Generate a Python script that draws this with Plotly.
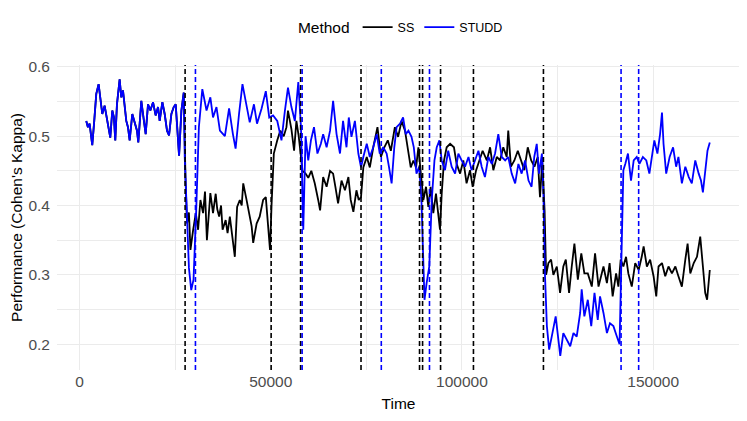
import plotly.graph_objects as go

# ---------------- data ----------------
studd_time = [1750, 2180, 2620, 3320, 3840, 4370, 4980, 5500, 5940, 6550, 6980, 7680, 8030, 8560, 8990,
              9340, 9780, 10480, 10910, 11350, 11790, 12220, 12660, 13100, 13790, 14400, 15020, 15360,
              16150, 16590, 17290, 17900, 18510, 19210, 19900, 20520, 20950, 21650, 22260, 22870, 23400,
              24010, 24620, 25140, 25580, 26020, 26630, 27240, 27500, 28100, 28600, 29200, 29800, 30500,
              31200, 32100, 33200, 34200, 34900, 35800, 36700, 38000, 39100, 40100, 40800, 41700, 42600,
              43600, 44500, 45600, 46400, 47600, 48700, 49600, 50600, 51700, 52800, 53700, 54500, 55400,
              56300, 57200, 57900, 58500, 59100, 59800, 60500, 61300, 62200, 63100, 63700, 64600, 65500,
              66300, 67200, 68100, 68900, 69800, 70400, 71100, 72000, 72900, 73600, 74200, 75100, 75900,
              76800, 77700, 78500, 79400, 80300, 80900, 81600, 82300, 82900, 83800, 84600, 85300, 86000,
              86800, 87400, 88100, 88800, 89400, 89900, 90200, 90750, 91450, 92100, 92800, 93400, 94100,
              94700, 95550, 96400, 97300, 98200, 99050, 99900, 100800, 101700, 102500, 103400, 104300,
              105150, 106000, 106900, 107800, 108650, 109500, 110400, 111300, 112100, 113000, 113900,
              114750, 115600, 116500, 117400, 118200, 118900, 119550, 120150, 120900, 121300, 121700,
              122200, 122800, 123650, 124500, 125200, 125700, 126500, 127400, 128300, 129150, 130000,
              130900, 131300, 132000, 132900, 133800, 134650, 135500, 136100, 137000, 137900, 138700,
              139600, 140500, 141200, 141500, 141900, 142200, 142700, 143400, 144200, 144900, 145700,
              146400, 147300, 148200, 149000, 149700, 150300, 151100, 151800, 152300, 152700, 153400,
              154300, 155200, 156000, 156600, 157500, 158400, 159300, 160100, 161000, 161900, 162500,
              163000, 163600, 164200, 164800]
studd_kappa = [0.522, 0.513, 0.518, 0.487, 0.522, 0.561, 0.575, 0.546, 0.532, 0.544, 0.530, 0.513, 0.498,
               0.537, 0.527, 0.494, 0.546, 0.582, 0.556, 0.566, 0.546, 0.522, 0.513, 0.494, 0.532, 0.518,
               0.508, 0.491, 0.551, 0.532, 0.503, 0.546, 0.537, 0.549, 0.530, 0.542, 0.522, 0.549, 0.532,
               0.508, 0.501, 0.532, 0.542, 0.546, 0.513, 0.472, 0.537, 0.563, 0.470, 0.380, 0.310, 0.278,
               0.293, 0.393, 0.513, 0.568, 0.537, 0.556, 0.527, 0.542, 0.508, 0.500, 0.540, 0.503, 0.482,
               0.532, 0.575, 0.546, 0.520, 0.546, 0.518, 0.540, 0.565, 0.527, 0.530, 0.522, 0.494, 0.537,
               0.570, 0.542, 0.522, 0.578, 0.513, 0.365, 0.500, 0.465, 0.494, 0.513, 0.475, 0.489, 0.503,
               0.484, 0.508, 0.551, 0.503, 0.475, 0.522, 0.484, 0.527, 0.499, 0.522, 0.475, 0.455, 0.470,
               0.489, 0.470, 0.484, 0.503, 0.475, 0.484, 0.475, 0.456, 0.432, 0.484, 0.513, 0.518, 0.527,
               0.503, 0.508, 0.499, 0.484, 0.446, 0.456, 0.408, 0.312, 0.264, 0.288, 0.312, 0.408, 0.465,
               0.484, 0.494, 0.465, 0.451, 0.479, 0.456, 0.446, 0.475, 0.465, 0.456, 0.470, 0.451, 0.465,
               0.479, 0.456, 0.441, 0.470, 0.460, 0.475, 0.503, 0.470, 0.465, 0.470, 0.446, 0.432, 0.460,
               0.446, 0.465, 0.436, 0.427, 0.470, 0.489, 0.446, 0.475, 0.417, 0.300, 0.226, 0.192, 0.216,
               0.240, 0.207, 0.183, 0.216, 0.207, 0.197, 0.216, 0.211, 0.245, 0.279, 0.240, 0.264, 0.226,
               0.274, 0.235, 0.269, 0.245, 0.216, 0.230, 0.226, 0.211, 0.200, 0.274, 0.379, 0.451, 0.460,
               0.475, 0.436, 0.465, 0.470, 0.460, 0.470, 0.465, 0.446, 0.475, 0.494, 0.475, 0.503, 0.534,
               0.489, 0.446, 0.470, 0.484, 0.456, 0.470, 0.432, 0.456, 0.441, 0.432, 0.465, 0.446, 0.436,
               0.419, 0.451, 0.479, 0.491]

ss_time = [1750, 2180, 2620, 3320, 3840, 4370, 4980, 5500, 5940, 6550, 6980, 7680, 8030, 8560, 8990,
           9340, 9780, 10480, 10910, 11350, 11790, 12220, 12660, 13100, 13790, 14400, 15020, 15360,
           16150, 16590, 17290, 17900, 18510, 19210, 19900, 20520, 20950, 21650, 22260, 22870, 23400,
           24010, 24620, 25140, 25580, 26020, 26630, 27240, 27700, 28100, 28600, 29000, 29700, 30400,
           31000, 31600, 32300, 32800, 33300, 34200, 34900, 35600, 36000, 36500, 37000, 37400, 38200,
           38700, 39300, 40100, 40600, 41200, 41900, 42400, 42800, 43600, 44500, 45000, 45400, 45900,
           46300, 47100, 48000, 48700, 49300, 49800, 50200, 50800, 51700, 52500, 53400, 54100, 54500,
           55400, 56100, 56700, 57300, 57800, 58300, 59100, 59800, 60600, 61500, 62400, 62900, 63700,
           64600, 65500, 66300, 66900, 67600, 68500, 69400, 70300, 70900, 71600, 72400, 73000, 73600,
           74200, 75100, 75900, 76800, 77900, 78800, 79700, 80600, 81400, 82450, 83300, 84200, 85100,
           86000, 86600, 87300, 88000, 88600, 89200, 89900, 90600, 91200, 91800, 92500, 93200, 93800,
           94250, 94700, 95300, 96000, 96900, 97900, 98600, 99500, 100350, 101200, 102100, 102800,
           103700, 104550, 105400, 106500, 107350, 108200, 109100, 109950, 110800, 111700, 112100,
           112800, 113700, 114600, 115450, 116300, 117200, 118100, 118950, 119800, 120400, 121000,
           121600, 122000, 122600, 123300, 123900, 124800, 125650, 126500, 127150, 128000, 128700,
           129400, 130300, 131200, 132000, 132900, 133950, 134800, 135700, 136600, 137000, 137900,
           138600, 139400, 140300, 140900, 141500, 142200, 142900, 143500, 144400, 145300, 146200,
           147000, 147500, 148350, 149200, 150100, 150800, 151400, 152300, 153150, 154000, 154900,
           155800, 156600, 157500, 158400, 159000, 159700, 160600, 161450, 162300, 163000, 163600,
           164100, 164800]
ss_kappa = [0.522, 0.513, 0.518, 0.487, 0.522, 0.561, 0.575, 0.546, 0.532, 0.544, 0.530, 0.513, 0.498,
            0.537, 0.527, 0.494, 0.546, 0.582, 0.556, 0.566, 0.546, 0.522, 0.513, 0.494, 0.532, 0.518,
            0.508, 0.491, 0.551, 0.532, 0.503, 0.546, 0.537, 0.549, 0.530, 0.542, 0.522, 0.549, 0.532,
            0.508, 0.501, 0.532, 0.542, 0.546, 0.513, 0.472, 0.537, 0.563, 0.440, 0.374, 0.390, 0.336,
            0.365, 0.389, 0.365, 0.408, 0.389, 0.420, 0.350, 0.418, 0.389, 0.417, 0.395, 0.384, 0.400,
            0.365, 0.379, 0.360, 0.384, 0.350, 0.326, 0.398, 0.408, 0.400, 0.432, 0.410, 0.384, 0.370,
            0.346, 0.365, 0.374, 0.384, 0.408, 0.412, 0.369, 0.336, 0.400, 0.475, 0.494, 0.508, 0.500,
            0.513, 0.537, 0.510, 0.479, 0.522, 0.500, 0.470, 0.450, 0.446, 0.440, 0.450, 0.432, 0.408,
            0.393, 0.441, 0.427, 0.450, 0.446, 0.427, 0.403, 0.436, 0.422, 0.441, 0.408, 0.391, 0.422,
            0.408, 0.412, 0.455, 0.470, 0.455, 0.484, 0.513, 0.470, 0.484, 0.494, 0.479, 0.513, 0.499,
            0.522, 0.508, 0.475, 0.455, 0.465, 0.455, 0.484, 0.446, 0.408, 0.427, 0.398, 0.427, 0.389,
            0.417, 0.384, 0.365, 0.417, 0.465, 0.484, 0.489, 0.484, 0.460, 0.446, 0.465, 0.432, 0.451,
            0.427, 0.451, 0.465, 0.479, 0.465, 0.484, 0.451, 0.470, 0.465, 0.484, 0.470, 0.508, 0.456,
            0.465, 0.479, 0.465, 0.451, 0.484, 0.465, 0.456, 0.470, 0.412, 0.465, 0.393, 0.300, 0.317,
            0.322, 0.300, 0.312, 0.274, 0.312, 0.322, 0.274, 0.312, 0.345, 0.293, 0.331, 0.302, 0.302,
            0.283, 0.331, 0.283, 0.302, 0.312, 0.288, 0.317, 0.269, 0.302, 0.283, 0.322, 0.312, 0.326,
            0.302, 0.283, 0.317, 0.307, 0.326, 0.341, 0.312, 0.322, 0.298, 0.269, 0.312, 0.317, 0.298,
            0.312, 0.302, 0.312, 0.298, 0.283, 0.322, 0.345, 0.302, 0.317, 0.326, 0.355, 0.312, 0.274,
            0.264, 0.307]

# drift detection points
ss_detections = [27600, 50100, 57800, 73600, 88900, 89700, 94400, 103000, 121300]
studd_detections = [30300, 58200, 78900, 91500, 141600, 146200]

methods = ["SS", "STUDD"]
method_colors = {"SS": "#000000", "STUDD": "#0000FF"}

x_ticks = [0, 50000, 100000, 150000]
y_ticks = [0.2, 0.3, 0.4, 0.5, 0.6]

# ---------------- figure ----------------
FONT = "Liberation Sans, Arial, Helvetica, sans-serif"
fig = go.Figure()

series = {"SS": (ss_time, ss_kappa), "STUDD": (studd_time, studd_kappa)}
for m in methods:
    t, k = series[m]
    fig.add_trace(go.Scatter(x=t, y=k, mode="lines", name=m,
                             line=dict(color=method_colors[m], width=1.8)))

for m, dets in (("SS", ss_detections), ("STUDD", studd_detections)):
    for d in dets:
        fig.add_shape(type="line", xref="x", yref="paper", x0=d, x1=d, y0=0, y1=1,
                      line=dict(color=method_colors[m], width=1.6, dash="5px,3px"), layer="above")

grid = "#EBEBEB"
fig.update_layout(
    width=739, height=413,
    margin=dict(l=49, r=7, t=57, b=51, autoexpand=False),
    paper_bgcolor="white", plot_bgcolor="white",
    font=dict(family=FONT, color="black"),
    showlegend=True,
    legend=dict(orientation="h", x=0.505, xanchor="center", yref="container", y=0.9516, yanchor="middle",
                title=dict(text="Method", font=dict(size=15.5, color="black"), side="left"),
                font=dict(size=12.5, color="black"), itemwidth=30,
                bgcolor="rgba(0,0,0,0)"),
    xaxis=dict(range=[-5900, 172700], tickvals=x_ticks, ticktext=[str(v) for v in x_ticks],
               showgrid=True, gridcolor=grid, gridwidth=1.1, zeroline=False, showline=False,
               ticks="", tickfont=dict(size=15.5, color="#4D4D4D"), automargin=True,
               minor=dict(dtick=25000, tick0=0, showgrid=True, gridcolor=grid, gridwidth=0.6),
               title=dict(text="Time", font=dict(size=15.5, color="black"), standoff=9)),
    yaxis=dict(range=[0.1627, 0.6027], tickvals=y_ticks, ticktext=["0.2", "0.3", "0.4", "0.5", "0.6"],
               showgrid=True, gridcolor=grid, gridwidth=1.1, zeroline=False, showline=False,
               ticks="", tickfont=dict(size=15.5, color="#4D4D4D"), automargin=True,
               ticklabelstandoff=6,
               minor=dict(dtick=0.05, tick0=0.15, showgrid=True, gridcolor=grid, gridwidth=0.6),
               title=dict(text="Performance (Cohen's Kappa)", font=dict(size=15.5, color="black"),
                          standoff=6)),
)

fig.write_html("out.html")
